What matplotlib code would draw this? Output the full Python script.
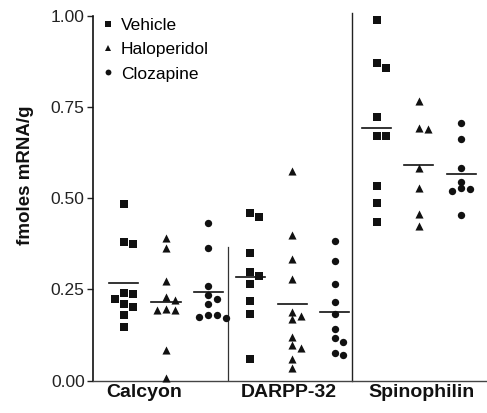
import numpy as np
import matplotlib
matplotlib.use('Agg')
import matplotlib.pyplot as plt
from matplotlib.lines import Line2D

plt.rcParams['font.family'] = ['Liberation Sans', 'DejaVu Sans']

# Data (fmoles mRNA/g)
groups = ['Calcyon', 'DARPP-32', 'Spinophilin']
treatments = ['Vehicle', 'Haloperidol', 'Clozapine']
markers = ['s', '^', 'o']
marker_sizes = [26, 34, 28]

calcyon_vehicle = [0.483, 0.381, 0.375, 0.239, 0.237, 0.224, 0.209, 0.201, 0.180, 0.148]
calcyon_haloperidol = [0.390, 0.363, 0.274, 0.230, 0.221, 0.196, 0.194, 0.194, 0.084, 0.007]
calcyon_clozapine = [0.431, 0.364, 0.259, 0.235, 0.223, 0.209, 0.179, 0.179, 0.175, 0.173]

darpp_vehicle = [0.459, 0.448, 0.351, 0.297, 0.288, 0.264, 0.218, 0.183, 0.059]
darpp_haloperidol = [0.575, 0.399, 0.333, 0.279, 0.189, 0.178, 0.168, 0.121, 0.098, 0.089, 0.059, 0.034]
darpp_clozapine = [0.383, 0.329, 0.265, 0.216, 0.182, 0.141, 0.118, 0.107, 0.077, 0.070]

spino_vehicle = [0.988, 0.870, 0.856, 0.723, 0.670, 0.670, 0.533, 0.488, 0.434]
spino_haloperidol = [0.766, 0.691, 0.689, 0.584, 0.529, 0.456, 0.425]
spino_clozapine = [0.707, 0.661, 0.582, 0.545, 0.527, 0.524, 0.521, 0.454]

data = [
    [calcyon_vehicle, calcyon_haloperidol, calcyon_clozapine],
    [darpp_vehicle, darpp_haloperidol, darpp_clozapine],
    [spino_vehicle, spino_haloperidol, spino_clozapine],
]

yticks = [0.0, 0.25, 0.50, 0.75, 1.00]


def dodge(vals, thresh=0.018, step=0.07):
    """Spread points that would overlap sideways (simple dot-plot layout)."""
    placed = []
    out = []
    for v in vals:
        used = {s for pv, s in placed if abs(pv - v) < thresh}
        for s in [0, 1, -1, 2, -2]:
            if s not in used:
                break
        placed.append((v, s))
        out.append(s * step)
    return np.array(out)


fig = plt.figure(figsize=(4.87, 4.13), dpi=100)
ax = fig.add_axes([93 / 487, 32.3 / 413, (487 - 93) / 487, 365 / 413])

ink = '#111111'
for g, group in enumerate(data):
    for t, vals in enumerate(group):
        xc = g + (t - 1) / 3
        xs = xc + dodge(vals)
        ax.scatter(xs, vals, marker=markers[t], s=marker_sizes[t], color=ink,
                   linewidths=0, clip_on=False, zorder=3)
        m = np.mean(vals)
        ax.plot([xc - 0.115, xc + 0.115], [m, m], color=ink, lw=1.2, zorder=2)

# group dividers
ax.plot([0.49, 0.49], [0, 0.365], color='#333333', lw=0.9)
ax.plot([1.47, 1.47], [0, 1.007], color='#222222', lw=1.0, clip_on=False)

ax.set_xlim(-0.577, 2.538)
ax.set_ylim(0, 1.0)
ax.set_yticks(yticks)
ax.set_yticklabels(['%.2f' % v for v in yticks])
ax.set_xticks([])
ax.tick_params(axis='y', length=4, width=1, direction='out', labelsize=12.5,
               pad=2, colors='#222222')

for side in ['top', 'right']:
    ax.spines[side].set_visible(False)
ax.spines['left'].set_linewidth(1.2)
ax.spines['left'].set_color('#111111')
ax.spines['bottom'].set_linewidth(1.0)
ax.spines['bottom'].set_color('#444444')

# category labels under the groups
label_x = [-0.17, 0.97, 2.02]
for x, name in zip(label_x, groups):
    ax.text(x, -0.031, name, transform=ax.get_xaxis_transform(),
            ha='center', va='center', fontsize=14, fontweight='bold', color='#111111')

fig.text(25 / 487, 1 - 175 / 413, 'fmoles mRNA/g', rotation=90, ha='center',
         va='center', fontsize=13.5, fontweight='bold', color='#111111')

handles = [Line2D([], [], marker=mk, ls='none', color=ink, markersize=4.2,
                  markeredgewidth=0) for mk in markers]
ax.legend(handles, treatments, loc='upper left', frameon=False,
          bbox_to_anchor=(103.3 / 487, 1 - 18 / 413), bbox_transform=fig.transFigure,
          borderpad=0, borderaxespad=0, handlelength=0.5, handletextpad=0.5,
          labelspacing=0.52, fontsize=12.5)

fig.savefig('out.png', dpi=100)
